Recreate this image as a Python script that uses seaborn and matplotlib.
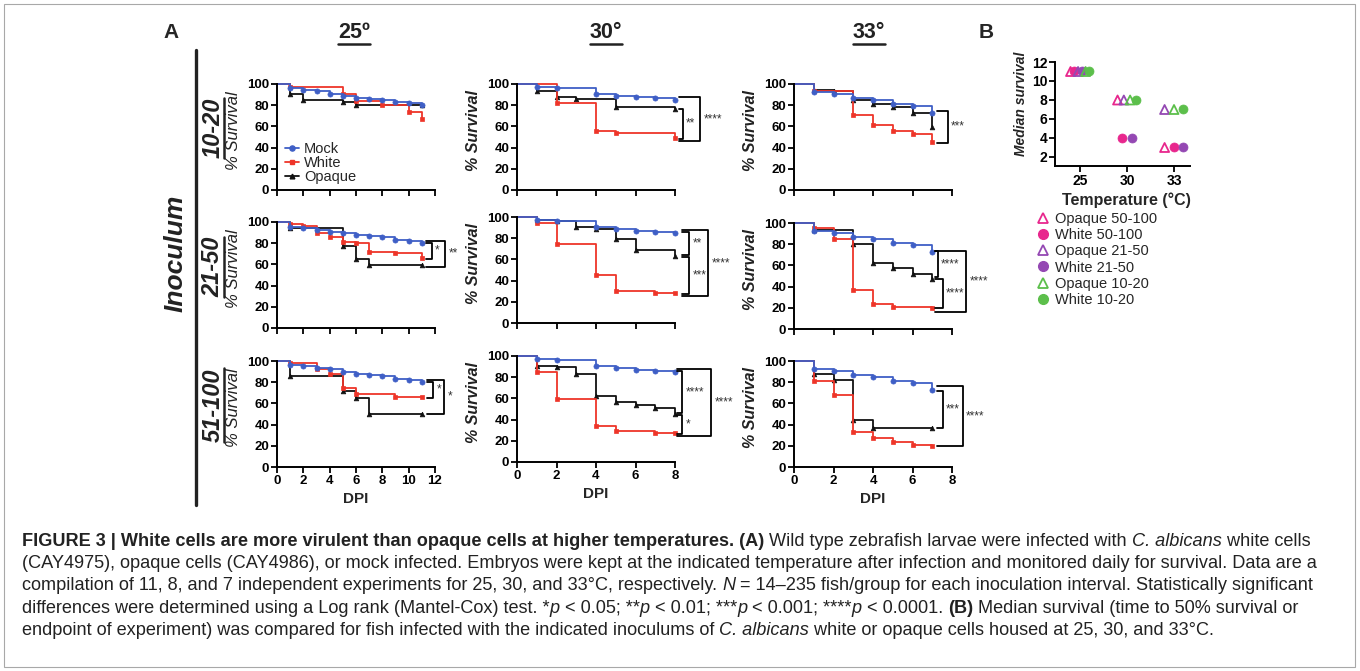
import numpy as np
import pandas as pd
import matplotlib
matplotlib.use("Agg")
import matplotlib.pyplot as plt
import seaborn as sns
from matplotlib.lines import Line2D
from matplotlib.patches import Rectangle
from matplotlib.font_manager import FontProperties

# ---------------- data: % survival per day post infection ----------------
days_25 = list(range(0, 12))
days_30 = list(range(0, 9))
days_33 = list(range(0, 8))

# inoculum 10-20
mock_25_a = [100, 96, 94, 93, 91, 89, 87, 86, 85, 83, 82, 80]
white_25_a = [100, 97, 97, 97, 97, 91, 84, 84, 80, 80, 74, 67]
opaque_25_a = [100, 91, 85, 85, 85, 83, 80, 80, 80, 80, 80, 80]
mock_30_a = [100, 97, 96, 96, 91, 89, 88, 87, 85]
white_30_a = [100, 100, 82, 82, 56, 54, 54, 54, 49]
opaque_30_a = [100, 93, 88, 86, 86, 78, 78, 78, 76]
mock_33_a = [100, 92, 91, 87, 85, 81, 79, 73]
white_33_a = [100, 93, 93, 71, 61, 56, 53, 45]
opaque_33_a = [100, 94, 93, 85, 81, 78, 73, 59]

# inoculum 21-50
mock_25_b = [100, 95, 94, 92, 91, 90, 88, 87, 86, 83, 82, 80]
white_25_b = [100, 98, 96, 90, 86, 81, 80, 72, 72, 71, 71, 66]
opaque_25_b = [100, 94, 94, 94, 94, 77, 65, 59, 59, 59, 59, 59]
mock_30_b = [100, 97, 96, 96, 91, 89, 87, 86, 85]
white_30_b = [100, 94, 75, 75, 45, 30, 30, 28, 28]
opaque_30_b = [100, 97, 96, 91, 89, 79, 69, 69, 63]
mock_33_b = [100, 92, 91, 87, 85, 81, 79, 73]
white_33_b = [100, 95, 85, 37, 24, 21, 21, 20]
opaque_33_b = [100, 93, 93, 80, 62, 58, 52, 47]

# inoculum 51-100
mock_25_c = [100, 96, 95, 93, 92, 90, 88, 87, 86, 83, 82, 80]
white_25_c = [100, 98, 98, 92, 88, 75, 69, 69, 69, 66, 66, 66]
opaque_25_c = [100, 86, 86, 86, 86, 72, 65, 50, 50, 50, 50, 50]
mock_30_c = [100, 97, 96, 96, 91, 89, 87, 86, 85]
white_30_c = [100, 85, 59, 59, 34, 29, 29, 27, 27]
opaque_30_c = [100, 91, 90, 83, 62, 57, 54, 51, 45]
mock_33_c = [100, 92, 91, 87, 85, 81, 79, 73]
white_33_c = [100, 81, 68, 33, 27, 24, 21, 20]
opaque_33_c = [100, 88, 82, 44, 37, 37, 37, 37]

rows = ["10-20", "21-50", "51-100"]
cols = ["25", "30", "33"]
col_titles = ["25º", "30°", "33°"]

survival = {
    ("10-20", "25"): (days_25, mock_25_a, white_25_a, opaque_25_a),
    ("10-20", "30"): (days_30, mock_30_a, white_30_a, opaque_30_a),
    ("10-20", "33"): (days_33, mock_33_a, white_33_a, opaque_33_a),
    ("21-50", "25"): (days_25, mock_25_b, white_25_b, opaque_25_b),
    ("21-50", "30"): (days_30, mock_30_b, white_30_b, opaque_30_b),
    ("21-50", "33"): (days_33, mock_33_b, white_33_b, opaque_33_b),
    ("51-100", "25"): (days_25, mock_25_c, white_25_c, opaque_25_c),
    ("51-100", "30"): (days_30, mock_30_c, white_30_c, opaque_30_c),
    ("51-100", "33"): (days_33, mock_33_c, white_33_c, opaque_33_c),
}

# panel B: median survival (days)
temps_b = ["25", "30", "33"]
opaque_50_100 = [11, 8, 3]
white_50_100 = [11, 4, 3]
opaque_21_50 = [11, 8, 7]
white_21_50 = [11, 4, 3]
opaque_10_20 = [11, 8, 7]
white_10_20 = [11, 8, 7]

# ---------------- style ----------------
sns.set_theme(style="ticks")
plt.rcParams["font.family"] = ["Liberation Sans", "DejaVu Sans"]
plt.rcParams["axes.linewidth"] = 1.4

colors = {"mock": "#3f5fc6", "white": "#ee3529", "opaque": "#111111"}
markers = {"mock": "o", "white": "s", "opaque": "^"}
msize = {"mock": 3.7, "white": 3.5, "opaque": 3.4}
pink, purple, green = "#e8278d", "#9448b3", "#5cbf4b"

W, H = 1360, 671
fig = plt.figure(figsize=(W / 100, H / 100), dpi=100)
fig.patch.set_facecolor("white")
renderer = fig.canvas.get_renderer()


def fx(x):
    return x / W


def fy(y):
    return 1 - y / H


def px_axes(x0, y0, x1, y1):
    return fig.add_axes([fx(x0), fy(y1), (x1 - x0) / W, (y1 - y0) / H])


def bold_ticks(ax):
    for lab in ax.get_xticklabels() + ax.get_yticklabels():
        lab.set_fontweight("bold")


col_px = {"25": (277, 435), "30": (517, 675), "33": (794, 952)}
panel_top = {"10-20": {"25": 84, "30": 84, "33": 84},
             "21-50": {"25": 222, "30": 217, "33": 223},
             "51-100": {"25": 361, "30": 356, "33": 361}}

# significance brackets: start of arms (axes frac), then
# (top series, bottom series, vertical x, label, pad top, pad bottom)
brackets = {
    ("10-20", "30"): (1.025, [("opaque", "white", 1.05, "**", 0.5, 0.5),
                              ("mock", "white", 1.16, "****", 3, 3)]),
    ("10-20", "33"): (0.905, [("mock", "white", 0.975, "***", 2, 1)]),
    ("21-50", "25"): (0.94, [("mock", "white", 0.98, "*", 0.5, 0.5),
                             ("mock", "opaque", 1.065, "**", 2.5, 1)]),
    ("21-50", "30"): (1.045, [("mock", "opaque", 1.09, "**", 1, -1),
                              ("opaque", "white", 1.09, "***", -1, 1),
                              ("mock", "white", 1.21, "****", 2.5, 2.5)]),
    ("21-50", "33"): (0.89, [("mock", "opaque", 0.91, "****", 0.5, -2),
                             ("opaque", "white", 0.94, "****", 0, 0.5),
                             ("mock", "white", 1.09, "****", 0.5, 3.5)]),
    ("51-100", "25"): (0.95, [("mock", "white", 0.99, "*", 0.5, 0.5),
                              ("mock", "opaque", 1.06, "*", 2.5, 0)]),
    ("51-100", "30"): (1.01, [("mock", "opaque", 1.045, "****", 0.5, -1),
                              ("opaque", "white", 1.045, "*", -1, 0.5),
                              ("mock", "white", 1.23, "****", 2.5, 2.5)]),
    ("51-100", "33"): (0.905, [("mock", "opaque", 0.94, "***", -1, 0),
                               ("mock", "white", 1.07, "****", 3, 0)]),
}

# ---------------- panel A: survival curves ----------------
for r, row in enumerate(rows):
    for c, col in enumerate(cols):
        x0, x1 = col_px[col]
        top = panel_top[row][col]
        ax = px_axes(x0, top, x1, top + 106)
        days, mock, white, opaque = survival[(row, col)]
        curves = {"mock": mock, "white": white, "opaque": opaque}
        for name in ["opaque", "white", "mock"]:
            vals = np.asarray(curves[name], float)
            keep = [i for i in range(1, len(vals))
                    if vals[i] != vals[i - 1] or i == len(vals) - 1]
            sns.lineplot(x=days, y=vals, ax=ax, color=colors[name],
                         drawstyle="steps-post", marker=markers[name],
                         markevery=keep, markersize=msize[name],
                         markeredgecolor=colors[name], markeredgewidth=0.5,
                         linewidth=1.3, legend=False, clip_on=False)
        xmax = 12 if col == "25" else 8
        ax.set_xlim(0, xmax)
        ax.set_ylim(0, 100)
        ax.set_xticks(range(0, xmax + 1, 2))
        ax.set_yticks(range(0, 101, 20))
        ax.tick_params(direction="out", length=4, width=1.3, labelsize=9.5,
                       pad=1.5, colors="black")
        sns.despine(ax=ax)
        for sp in ["left", "bottom"]:
            ax.spines[sp].set_color("black")
        if c == 0:
            ax.set_ylabel("% Survival", fontsize=12, style="italic",
                          color="#222222")
        else:
            ax.set_ylabel("% Survival", fontsize=11.5, style="italic",
                          fontweight="bold", color="#222222")
        ax.yaxis.set_label_coords(-0.23, 0.56)
        if r == 2:
            ax.set_xlabel("DPI", fontsize=11, fontweight="bold")
            ax.xaxis.set_label_coords(0.5, -0.24)
        else:
            ax.set_xlabel("")
            ax.tick_params(labelbottom=False)
        bold_ticks(ax)

        if (row, col) in brackets:
            start, items = brackets[(row, col)]
            tr = ax.get_yaxis_transform()
            for s_top, s_bot, xv, lab, p_top, p_bot in items:
                y1 = curves[s_top][-1] + p_top
                y2 = curves[s_bot][-1] - p_bot
                ax.plot([start, xv, xv, start], [y1, y1, y2, y2],
                        transform=tr, color="black", lw=1.3, clip_on=False)
                ax.text(xv + 0.02, (y1 + y2) / 2, lab, transform=tr,
                        fontsize=8.5, ha="left", va="center", color="#333333")

        if r == 0 and c == 0:
            handles = [Line2D([0], [0], color=colors[n], marker=markers[n],
                              markersize=msize[n], lw=1.3)
                       for n in ["mock", "white", "opaque"]]
            ax.legend(handles, ["Mock", "White", "Opaque"], loc="lower left",
                      bbox_to_anchor=(0.05, 0.06), frameon=False,
                      fontsize=10.5, handlelength=1.0, handletextpad=0.3,
                      labelspacing=0.0, borderpad=0, borderaxespad=0)

# ---------------- panel B: median survival ----------------
axb = px_axes(1055, 62, 1190, 166)
b_series = [("Opaque 50-100", opaque_50_100, "^", pink),
            ("White 50-100", white_50_100, "o", pink),
            ("Opaque 21-50", opaque_21_50, "^", purple),
            ("White 21-50", white_21_50, "o", purple),
            ("Opaque 10-20", opaque_10_20, "^", green),
            ("White 10-20", white_10_20, "o", green)]

# spread coinciding points side by side, like the original scatter
xpos = [[0.0] * len(temps_b) for _ in b_series]
for ti in range(len(temps_b)):
    groups = {}
    for si, (_, vals, _, _) in enumerate(b_series):
        groups.setdefault(vals[ti], []).append(si)
    for v, members in groups.items():
        n = len(members)
        step = min(0.2, 0.4 / (n - 1)) if n > 1 else 0
        for k, si in enumerate(members):
            xpos[si][ti] = ti + (k - (n - 1) / 2) * step

for si, (name, vals, mk, colr) in enumerate(b_series):
    df = pd.DataFrame({"x": xpos[si], "median": vals})
    sns.scatterplot(data=df, x="x", y="median", marker=mk, s=42, color=colr,
                    ax=axb, legend=False, clip_on=False, zorder=3)
    coll = axb.collections[-1]
    if mk == "^":
        coll.set_facecolor("none")
        coll.set_edgecolor(colr)
        coll.set_linewidth(1.3)
    else:
        coll.set_edgecolor(colr)
        coll.set_linewidth(0.5)

axb.set_xlim(-0.53, 2.34)
axb.set_ylim(1.05, 12)
axb.set_xticks(range(len(temps_b)))
axb.set_xticklabels(temps_b)
axb.set_yticks(range(2, 13, 2))
axb.tick_params(direction="out", length=4, width=1.3, labelsize=10, pad=1.5,
                colors="black")
sns.despine(ax=axb)
for sp in ["left", "bottom"]:
    axb.spines[sp].set_color("black")
axb.set_ylabel("Median survival", fontsize=10, fontweight="bold", style="italic")
axb.yaxis.set_label_coords(-0.2, 0.6)
axb.set_xlabel("Temperature (°C)", fontsize=11.5, fontweight="bold")
axb.xaxis.set_label_coords(0.53, -0.25)
bold_ticks(axb)

b_handles = []
for name, vals, mk, colr in b_series:
    if mk == "^":
        b_handles.append(Line2D([], [], ls="none", marker="^", markersize=7,
                                markerfacecolor="none", markeredgecolor=colr,
                                markeredgewidth=1.3))
    else:
        b_handles.append(Line2D([], [], ls="none", marker="o", markersize=7,
                                markerfacecolor=colr, markeredgecolor=colr))
fig.legend(b_handles, [s[0] for s in b_series], loc="upper left",
           bbox_to_anchor=(fx(1036), fy(212)), frameon=False, fontsize=10.5,
           handlelength=1.0, handletextpad=0.3, labelspacing=0.15,
           borderpad=0, borderaxespad=0)

# ---------------- labels, bars, underlines ----------------
fig.text(fx(171), fy(32), "A", fontsize=15, fontweight="bold",
         ha="center", va="center")
fig.text(fx(986), fy(32), "B", fontsize=15, fontweight="bold",
         ha="center", va="center")


def hline_px(xa, xb, y, lw):
    fig.add_artist(Line2D([xa / W, xb / W], [y / H, y / H],
                          transform=fig.transFigure, color="#222222", lw=lw))


def vline_px(x, ya, yb, lw):
    fig.add_artist(Line2D([x / W, x / W], [ya / H, yb / H],
                          transform=fig.transFigure, color="#222222", lw=lw))


for title, xc in zip(col_titles, [354, 606, 869]):
    t = fig.text(fx(xc), fy(32), title, fontsize=15.5, fontweight="bold",
                 ha="center", va="center", color="#222222")
    bb = t.get_window_extent(renderer)
    hline_px(bb.x0, bb.x1, bb.y0 - 1, 1.8)

fig.text(fx(176), fy(253), "Inoculum", rotation=90, fontsize=19,
         fontweight="bold", style="italic", ha="center", va="center",
         color="#222222")
vline_px(196, H - 50, H - 505, 2.4)

for row, yc in zip(rows, [128, 267, 405]):
    t = fig.text(fx(213), fy(yc), row, rotation=90, fontsize=17,
                 fontweight="bold", style="italic", ha="center", va="center",
                 color="#222222")
    bb = t.get_window_extent(renderer)
    vline_px(bb.x1 - 1, bb.y0, bb.y1, 1.8)

# ---------------- caption ----------------
cap_lines = [
    [("FIGURE 3 | White cells are more virulent than opaque cells at higher temperatures. (A)", "b"),
     (" Wild type zebrafish larvae were infected with ", "n"), ("C. albicans", "i"),
     (" white cells", "n")],
    [("(CAY4975), opaque cells (CAY4986), or mock infected. Embryos were kept at the indicated "
      "temperature after infection and monitored daily for survival. Data are a", "n")],
    [("compilation of 11, 8, and 7 independent experiments for 25, 30, and 33°C, respectively. ", "n"),
     ("N", "i"), (" = 14–235 fish/group for each inoculation interval. Statistically significant", "n")],
    [("differences were determined using a Log rank (Mantel-Cox) test. *", "n"), ("p", "i"),
     (" < 0.05; **", "n"), ("p", "i"), (" < 0.01; ***", "n"), ("p", "i"),
     (" < 0.001; ****", "n"), ("p", "i"), (" < 0.0001. ", "n"), ("(B)", "b"),
     (" Median survival (time to 50% survival or", "n")],
    [("endpoint of experiment) was compared for fish infected with the indicated inoculums of ", "n"),
     ("C. albicans", "i"), (" white or opaque cells housed at 25, 30, and 33°C.", "n")],
]
cap_family = ["Liberation Sans Narrow", "Liberation Sans", "DejaVu Sans"]


def cap_fp(style, size):
    return FontProperties(family=cap_family, size=size,
                          weight="bold" if style == "b" else "normal",
                          style="italic" if style == "i" else "normal")


def run_width(s, fp):
    t1 = fig.text(0, 0, "|" + s + "|", fontproperties=fp)
    w1 = t1.get_window_extent(renderer).width
    t1.remove()
    t2 = fig.text(0, 0, "||", fontproperties=fp)
    w2 = t2.get_window_extent(renderer).width
    t2.remove()
    return w1 - w2


w_ref = sum(run_width(s, cap_fp(st, 12)) for s, st in cap_lines[1])
cap_size = 12 * (1322 - 22) / w_ref
for li, line in enumerate(cap_lines):
    x = 22
    ybase = 545.5 + li * 22.4
    for s, st in line:
        fp = cap_fp(st, cap_size)
        fig.text(fx(x), fy(ybase), s, fontproperties=fp, ha="left",
                 va="baseline", color="#222222")
        x += run_width(s, fp)

fig.add_artist(Rectangle((fx(4), fy(667)), 1351 / W, 663 / H,
                         transform=fig.transFigure, fill=False,
                         edgecolor="#a8a8a8", lw=0.8))

fig.savefig("out.png", dpi=100)
